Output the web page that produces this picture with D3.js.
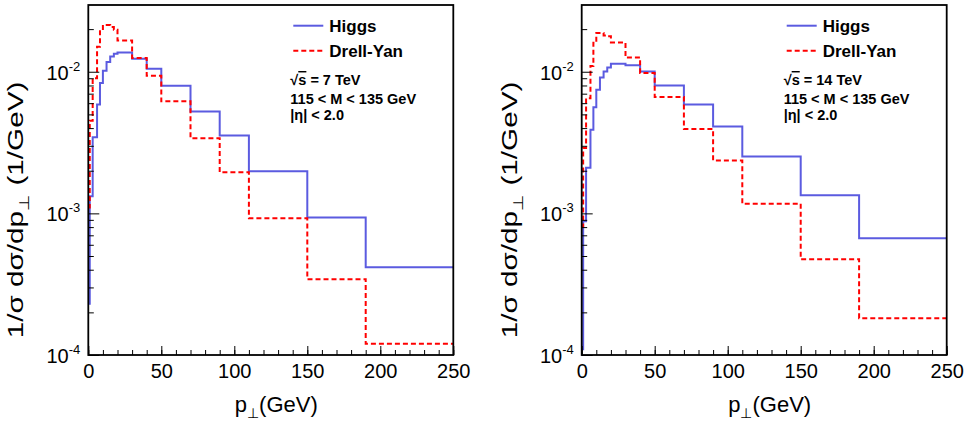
<!DOCTYPE html>
<html>
<head>
<meta charset="utf-8">
<script src="https://cdn.jsdelivr.net/npm/d3@7"></script>
<style>
  body { margin: 0; background: #fff; }
  svg { display: block; font-family: "Liberation Sans", Arial, Helvetica, sans-serif; }
</style>
</head>
<body>
<svg width="967" height="427"></svg>
<script>
// bin edges in pT (GeV), shared by every histogram
const binEdges = [0, 1, 3, 6, 8, 10, 12.5, 15, 17.5, 20, 30, 40, 50, 70, 90, 110, 150, 190, 250];

// sqrt(s) = 7 TeV
const higgs7 = [0.00023, 0.00132, 0.00345, 0.00586, 0.00832, 0.01016, 0.01171, 0.01282, 0.0134, 0.01368,
  0.01236, 0.0105, 0.00796, 0.00525, 0.00354, 0.00198, 0.000937, 0.000417];
const drellYan7 = [0.0011, 0.0045, 0.009, 0.015, 0.02, 0.0214, 0.0214, 0.0207, 0.0198, 0.0166,
  0.0125, 0.00937, 0.00618, 0.00339, 0.00195, 0.000923, 0.000343, 0.00012];

// sqrt(s) = 14 TeV
const higgs14 = [0.00011, 0.00088, 0.0021, 0.0039, 0.00561, 0.00747, 0.00912, 0.01005, 0.01072, 0.01139,
  0.0111, 0.01005, 0.008, 0.00586, 0.0041, 0.00252, 0.00134, 0.000667];
const drellYan14 = [0.0008, 0.0029, 0.0065, 0.011, 0.016, 0.0188, 0.0188, 0.018, 0.0178, 0.0161,
  0.0126, 0.0098, 0.00664, 0.00394, 0.00236, 0.00117, 0.000474, 0.000182];

const xMajorTicks = [0, 50, 100, 150, 200, 250];
const xMinorTicks = d3.range(0, 251, 10);
const yDecades = [-4, -3, -2];
const energyLabels = ["7 TeV", "14 TeV"];
const legendNames = ["Higgs", "Drell-Yan"];

const svg = d3.select("svg");

const panels = [
  { left: 88.3, energy: energyLabels[0], higgs: higgs7, dy: drellYan7, titleX: 23 },
  { left: 581.7, energy: energyLabels[1], higgs: higgs14, dy: drellYan14, titleX: 517 },
];

const plotTop = 5, plotBottom = 355, plotWidth = 365;

panels.forEach((p) => {
  const g = svg.append("g");

  const x = d3.scaleLinear().domain([0, 250]).range([p.left, p.left + plotWidth]);
  const y = d3.scaleLog().domain([1e-4, 0.0296]).range([plotBottom, plotTop]);

  // histograms
  const step = d3.line()
    .x((d) => x(d[0]))
    .y((d) => y(d[1]))
    .curve(d3.curveStepAfter);

  const pts = (vals) => binEdges.map((e, i) => [e, vals[Math.min(i, vals.length - 1)]]);

  g.append("path")
    .attr("d", step(pts(p.higgs)))
    .attr("fill", "none")
    .attr("stroke", "#5b5be0")
    .attr("stroke-width", 2);

  g.append("path")
    .attr("d", step(pts(p.dy)))
    .attr("fill", "none")
    .attr("stroke", "#ff0000")
    .attr("stroke-width", 2)
    .attr("stroke-dasharray", "5,3");

  // y ticks
  const yMajor = yDecades.map((k) => Math.pow(10, k));
  const yMinor = [];
  yDecades.forEach((k) => {
    for (let m = 2; m <= 9; m++) {
      const v = m * Math.pow(10, k);
      if (v < y.domain()[1]) yMinor.push(v);
    }
  });

  g.append("g")
    .attr("transform", `translate(${p.left},0)`)
    .call(d3.axisLeft(y).tickValues(yMajor).tickSize(-11).tickFormat(""))
    .call((a) => a.select(".domain").remove());
  g.append("g")
    .attr("transform", `translate(${p.left},0)`)
    .call(d3.axisLeft(y).tickValues(yMinor).tickSize(-5.5).tickFormat(""))
    .call((a) => a.select(".domain").remove());

  // x ticks
  g.append("g")
    .attr("transform", `translate(0,${plotBottom})`)
    .call(d3.axisBottom(x).tickValues(xMinorTicks).tickSize(-5).tickFormat(""))
    .call((a) => a.select(".domain").remove());
  g.append("g")
    .attr("transform", `translate(0,${plotBottom})`)
    .call(d3.axisBottom(x).tickValues(xMajorTicks).tickSize(-9).tickPadding(9))
    .call((a) => a.select(".domain").remove())
    .call((a) => a.selectAll("text")
      .attr("font-size", 20)
      .attr("fill", "#000")
      .attr("font-family", "Liberation Sans, Arial, sans-serif"));

  g.selectAll(".tick line").attr("stroke", "#000");

  // y tick labels 10^k
  yDecades.forEach((k) => {
    const t = g.append("text")
      .attr("x", p.left - 8)
      .attr("y", y(Math.pow(10, k)) + 8)
      .attr("text-anchor", "end")
      .attr("font-size", 20);
    t.append("tspan").text("10");
    t.append("tspan").attr("font-size", 13).attr("dy", -9).text(k);
  });

  // frame
  g.append("rect")
    .attr("x", p.left)
    .attr("y", plotTop)
    .attr("width", plotWidth)
    .attr("height", plotBottom - plotTop)
    .attr("fill", "none")
    .attr("stroke", "#000")
    .attr("stroke-width", 1.8);

  // axis titles
  const xt = g.append("text")
    .attr("x", p.left + 188)
    .attr("y", 412)
    .attr("text-anchor", "middle")
    .attr("font-size", 22);
  xt.append("tspan").text("p");
  xt.append("tspan").attr("font-size", 14).attr("dy", 6).text("⊥");
  xt.append("tspan").attr("dy", -6).text("(GeV)");

  // y title, stretched along its length like the original
  const yt = g.append("text")
    .attr("transform", `translate(${p.titleX},210) rotate(-90) scale(1.35,1)`)
    .attr("text-anchor", "middle")
    .attr("font-size", 22);
  yt.append("tspan").text("1/σ dσ/dp");
  yt.append("tspan").attr("font-size", 14).attr("dy", 6).text("⊥");
  yt.append("tspan").attr("dy", -6).text(" (1/GeV)");

  // legend
  const legend = g.append("g").attr("transform", `translate(${p.left},0)`);
  const styles = [
    { stroke: "#5b5be0", dash: null },
    { stroke: "#ff0000", dash: "5,3" },
  ];
  legendNames.forEach((name, i) => {
    const ly = 25.7 + i * 25;
    legend.append("line")
      .attr("x1", 205).attr("x2", 235)
      .attr("y1", ly).attr("y2", ly)
      .attr("stroke", styles[i].stroke)
      .attr("stroke-width", 2)
      .attr("stroke-dasharray", styles[i].dash);
    legend.append("text")
      .attr("x", 241)
      .attr("y", ly + 6)
      .attr("font-size", 17)
      .attr("font-weight", "bold")
      .text(name);
  });

  const s1 = legend.append("text")
    .attr("x", 202).attr("y", 85)
    .attr("font-size", 14.5).attr("font-weight", "bold");
  s1.append("tspan").text("√");
  s1.append("tspan").attr("text-decoration", "overline").text("s");
  s1.append("tspan").text(" = " + p.energy);

  legend.append("text")
    .attr("x", 202).attr("y", 104)
    .attr("font-size", 14.5).attr("font-weight", "bold")
    .text("115 < M < 135 GeV");

  legend.append("text")
    .attr("x", 202).attr("y", 120)
    .attr("font-size", 14.5).attr("font-weight", "bold")
    .text("|η| < 2.0");
});
</script>
</body>
</html>
